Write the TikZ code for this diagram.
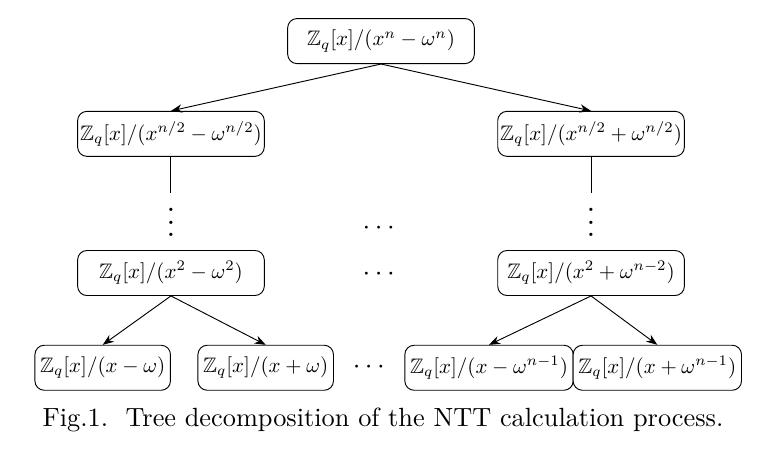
\documentclass[tikz,border=0pt]{standalone}
\usepackage{amsmath}
\usepackage{amssymb}
\usetikzlibrary{positioning,arrows.meta}
\tikzset{
  ring/.style={draw,rounded corners=4pt,minimum width=3.13cm,minimum height=0.755cm,
            inner xsep=1pt,inner ysep=2pt,align=center,fill=white,scale=0.9},
  leaf/.style={ring,minimum width=0pt,inner xsep=2.5pt},
  split/.style={->,>=Stealth},
  dotsnode/.style={scale=1.18,inner sep=0pt},
}

\begin{document}
\begin{tikzpicture}
  \useasboundingbox (-5.75,0.62) rectangle (5.84,-6.22);
  % root and first split
  \node[ring] (root) at (0,0) {$\mathbb{Z}_q[x]/(x^n-\omega^n)$};
  \node[ring] (lhalf) at (-3.17,-1.40) {$\mathbb{Z}_q[x]/(x^{n/2}-\omega^{n/2})$};
  \node[ring] (rhalf) at (3.17,-1.40) {$\mathbb{Z}_q[x]/(x^{n/2}+\omega^{n/2})$};
  \draw[split] (root.south) -- (lhalf.north);
  \draw[split] (root.south) -- (rhalf.north);
  % elided levels
  \coordinate (lend) at (-3.17,-2.29);
  \coordinate (rend) at (3.17,-2.29);
  \draw (lhalf.south) -- (lend);
  \draw (rhalf.south) -- (rend);
  \node[dotsnode,scale=1.14] (lvdots) at (-3.17,-2.60) {$\vdots$};
  \node[dotsnode,scale=1.14] (rvdots) at (3.17,-2.60) {$\vdots$};
  \node[dotsnode] (mdots1) at (0,-2.82) {$\cdots$};
  \node[dotsnode] (mdots2) at (0,-3.52) {$\cdots$};
  % last split
  \node[ring] (lquad) at (-3.17,-3.50) {$\mathbb{Z}_q[x]/(x^2-\omega^2)$};
  \node[ring] (rquad) at (3.17,-3.50) {$\mathbb{Z}_q[x]/(x^2+\omega^{n-2})$};
  \node[leaf] (leaf1) at (-4.20,-4.93) {$\mathbb{Z}_q[x]/(x-\omega)$};
  \node[leaf] (leaf2) at (-1.74,-4.93) {$\mathbb{Z}_q[x]/(x+\omega)$};
  \node[leaf] (leaf3) at (1.63,-4.93) {$\mathbb{Z}_q[x]/(x-\omega^{n-1})$};
  \node[leaf] (leaf4) at (4.17,-4.93) {$\mathbb{Z}_q[x]/(x+\omega^{n-1})$};
  \node[dotsnode] (mdots3) at (-0.15,-4.93) {$\cdots$};
  \draw[split] (lquad.south) -- (leaf1.north);
  \draw[split] (lquad.south) -- (leaf2.north);
  \draw[split] (rquad.south) -- (leaf3.north);
  \draw[split] (rquad.south) -- (leaf4.north);
  % caption
  \node[scale=1.13] (cap) at (0.03,-5.72) {Fig.1.\ \ Tree decomposition of the NTT calculation process.};
\end{tikzpicture}
\end{document}
